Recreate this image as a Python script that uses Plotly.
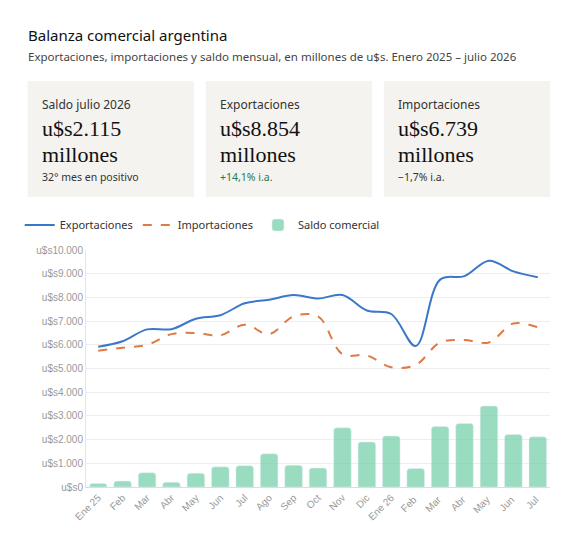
import plotly.graph_objects as go

meses = ["Ene 25", "Feb", "Mar", "Abr", "May", "Jun", "Jul", "Ago", "Sep", "Oct",
         "Nov", "Dic", "Ene 26", "Feb ", "Mar ", "Abr ", "May ", "Jun ", "Jul "]
exportaciones = [5920, 6150, 6650, 6660, 7100, 7250, 7750, 7900, 8100, 7950,
                 8100, 7450, 7300, 5950, 8750, 8900, 9550, 9100, 8854]
importaciones = [5750, 5880, 6000, 6450, 6500, 6400, 6850, 6450, 7200, 7200,
                 5600, 5550, 5050, 5150, 6100, 6200, 6100, 6900, 6739]
saldo = [150, 250, 600, 200, 580, 850, 900, 1400, 920, 800,
         2500, 1900, 2150, 780, 2550, 2680, 3420, 2220, 2115]
ticks = list(range(0, 10001, 1000))
tick_text = ["u$s" + f"{t:,}".replace(",", ".") for t in ticks]

OFF = 8  # page margin of the browser
W, H = 561, 529
L, R, T, B = 73, 19, 242, 50
pw, ph = W - L - R, H - T - B


def px(x):
    return (x - OFF - L) / pw


def py(y):
    return (H - B - (y - OFF)) / ph


fig = go.Figure()
fig.add_trace(go.Scatter(x=meses, y=exportaciones, name="Exportaciones", mode="lines",
                         line=dict(color="#3b78c9", width=2, shape="spline")))
fig.add_trace(go.Scatter(x=meses, y=importaciones, name="Importaciones", mode="lines",
                         line=dict(color="#e07a45", width=2, shape="spline", dash="dash")))
fig.add_trace(go.Bar(x=meses, y=saldo, name="Saldo comercial",
                     marker=dict(color="rgba(110,205,165,0.7)", cornerradius=3)))

shapes, ann = [], []
cards = [
    (22, "Saldo julio 2026", "u$s2.115", "32° mes en positivo", "#333333"),
    (202, "Exportaciones", "u$s8.854", "+14,1% i.a.", "#1f7a4d"),
    (382, "Importaciones", "u$s6.739", "−1,7% i.a.", "#333333"),
]
for x0, lab, val, sub, col in cards:
    shapes.append(dict(type="rect", xref="paper", yref="paper", x0=px(x0), x1=px(x0 + 168),
                       y0=py(197), y1=py(81), fillcolor="#f4f3ef", line=dict(width=0), layer="below"))
    for yy, txt, size, color, fam in [(104, lab, 12, "#333333", "Noto Sans"),
                                      (128, val, 22, "#111111", "Liberation Serif"),
                                      (154, "millones", 22, "#111111", "Liberation Serif"),
                                      (177, sub, 10.5, col, "Noto Sans")]:
        ann.append(dict(text=txt, xref="paper", yref="paper", x=px(x0 + 12), y=py(yy),
                        xanchor="left", yanchor="middle", showarrow=False,
                        font=dict(size=size, color=color, family=fam)))
ann.append(dict(text="Balanza comercial argentina", xref="paper", yref="paper", x=px(20), y=py(35),
                xanchor="left", yanchor="middle", showarrow=False,
                font=dict(size=15, color="#111111", family="Noto Sans")))
ann.append(dict(text="Exportaciones, importaciones y saldo mensual, en millones de u$s. Enero 2025 – julio 2026",
                xref="paper", yref="paper", x=px(20), y=py(56), xanchor="left", yanchor="middle",
                showarrow=False, font=dict(size=11.5, color="#444444", family="Noto Sans")))

fig.update_layout(
    width=W, height=H, margin=dict(l=L, r=R, t=T, b=B),
    paper_bgcolor="white", plot_bgcolor="white",
    font=dict(family="Noto Sans", color="#333333"),
    shapes=shapes, annotations=ann, bargap=0.28,
    legend=dict(orientation="h", x=px(14), y=py(225), xanchor="left", yanchor="middle",
                traceorder="normal", font=dict(size=11, color="#333333")),
    xaxis=dict(tickangle=-45, tickfont=dict(size=10, color="#999999", family="Liberation Sans"),
               showgrid=False, showline=True, linecolor="#dddddd"),
    yaxis=dict(range=[0, 10000], tickvals=ticks, ticktext=tick_text,
               tickfont=dict(size=10, color="#999999", family="Liberation Sans"),
               gridcolor="#eeeeee", zeroline=False, showline=True, linecolor="#e5e5e5"),
)
fig.write_html("out.html")
